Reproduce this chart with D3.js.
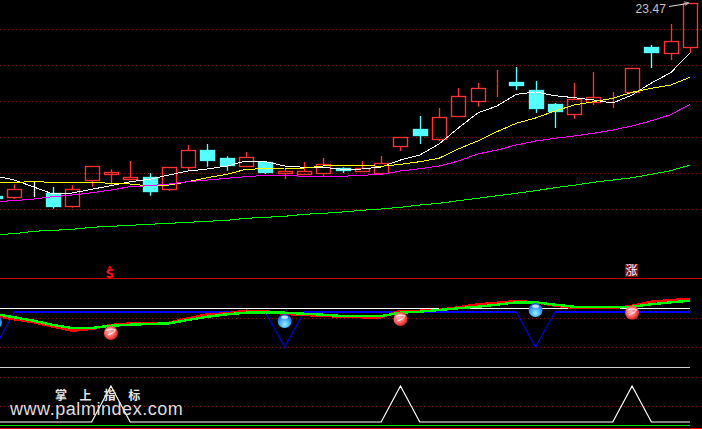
<!DOCTYPE html>
<html><head><meta charset="utf-8">
<script src="https://cdnjs.cloudflare.com/ajax/libs/d3/7.8.5/d3.min.js"></script>
<style>html,body{margin:0;padding:0;background:#000;overflow:hidden}svg{display:block}</style>
</head><body><div id="c"></div>
<script>
// Sessions run from index -1 (cut off at the left edge) to 35
const sessions = d3.range(-1, 36);
const open  = [4.25,4.03,4.67,4.47,3.13,5.73,6.43,5.83,6.10,4.83,7.03,8.80,8.00,7.13,7.63,6.50,6.33,6.43,6.97,6.63,6.50,9.13,10.87,9.87,12.13,13.67,15.46,15.60,14.80,13.40,12.33,13.57,13.92,14.57,19.10,18.47,19.03];
const close = [4.10,4.87,4.67,3.20,4.87,7.17,6.60,6.07,4.73,7.07,8.77,7.83,7.30,8.07,6.60,6.67,6.67,7.37,6.77,6.97,7.47,10.07,10.30,12.07,14.17,14.97,15.47,15.30,13.00,12.70,13.87,14.07,13.93,16.97,18.60,19.67,23.47];
const high  = [4.25,5.37,5.63,5.10,5.27,7.17,6.87,7.70,6.50,7.07,9.30,9.40,8.17,8.60,7.70,6.97,7.60,8.00,7.07,7.70,8.20,10.07,12.20,13.00,15.00,15.50,16.80,17.10,15.70,13.50,15.50,16.60,14.60,16.97,19.30,21.40,23.47];
const low   = [4.10,3.90,4.10,2.93,3.03,5.13,5.30,5.83,4.23,4.70,6.70,7.13,6.73,7.13,6.40,5.90,6.33,6.20,6.50,6.63,6.43,8.70,9.40,9.70,12.13,13.13,14.10,14.80,12.50,11.00,11.90,13.30,13.00,14.57,17.00,17.80,18.50];
const maWhite   = [6.2,5.8,5.1,4.4,4.5,4.87,5.23,5.63,5.87,6.3,6.7,6.9,7.2,7.7,7.63,7.2,7.07,7.07,6.87,6.9,7.1,7.8,8.3,9.4,11.0,12.5,13.2,14.37,14.6,14.23,14.03,13.8,13.5,14.3,15.5,16.53,18.5];
const maYellow  = [5.57,5.57,5.63,5.57,5.57,5.57,5.47,5.4,5.2,5.3,5.63,6.03,6.37,6.87,6.93,7.0,7.0,7.2,7.27,7.27,7.17,7.37,7.63,7.98,8.9,9.7,10.63,11.47,12.0,12.7,13.3,13.63,13.97,14.57,14.97,15.3,16.07];
const maMagenta = [3.65,3.73,3.9,4.13,4.3,4.53,4.8,5.13,5.23,5.4,5.63,5.8,5.97,6.13,6.27,6.27,6.17,6.17,6.17,6.27,6.37,6.7,6.93,7.2,7.7,8.4,8.8,9.3,9.7,9.97,10.2,10.47,10.8,11.2,11.73,12.33,13.37];
const maGreen   = [0.34,0.43,0.67,0.77,0.87,1.07,1.17,1.27,1.37,1.47,1.57,1.67,1.77,1.97,2.07,2.17,2.37,2.47,2.6,2.77,2.9,3.07,3.3,3.47,3.73,3.97,4.23,4.47,4.73,5.03,5.27,5.57,5.8,6.03,6.37,6.73,7.3];
const priceGrid = [20.9,17.3,13.7,10.1,6.5,2.9];
const lastPrice = "23.47";

// Oscillator panel
const oscGreen = [33,29.7,26.3,22,19,19,21.3,22.3,23,23.7,27,30.3,32.7,34.3,34.7,34.3,33.3,32.3,31,31,31,34.3,35.3,37,38.7,40.3,42.3,44.7,44.7,42.3,40.3,40,40,40.3,42.7,44.7,46.3];
const oscRed   = [31,27.7,24.7,20.3,16.3,18,22,23.7,23.7,24.3,28.7,32.7,33.7,36.3,36,33,32,31,30.3,29.7,29.7,36.3,36.3,37.3,39.7,42.7,44.3,46,44.7,41.3,39,38.7,38.7,41.3,45.3,47,48];
const oscBlue  = [0,35,35,35,35,35,35,35,35,35,35,35,35,35,35,0,35,35,35,35,35,35,35,35,35,35,35,35,0,35,35,35,35,35,35,35,35];
const oscGrid = [28.7,0];
const buyIdx  = [5,20,32];
const buyVal  = [14,28,34.3];
const sellIdx = [-1,14,27];
const sellVal = [25,26,37];

// Signal panel
const signal = [0,0,0,0,0,0,1,0,0,0,0,0,0,0,0,0,0,0,0,0,0,1,0,0,0,0,0,0,0,0,0,0,0,1,0,0,0];
const signalGrid = [1.25,0.444];

const W = 702, H = 429, RIGHT = 690;
const svg = d3.select("#c").append("svg").attr("width",W).attr("height",H).style("background","#000");
const x  = d3.scaleLinear().domain([0,35]).range([14.4,RIGHT]);
const y  = d3.scaleLinear().domain([23.8,0]).range([0,238]);
const yO = d3.scaleLinear().domain([69,0]).range([278,347]);
const yS = d3.scaleLinear().domain([0,1]).range([422,386]);
const snap = v => Math.round(v)+0.5;
const RED="#ff3333", CYAN="#55ffff", DOT="#861010";

function hline(yy,x2,color,w,dash){
  const l = svg.append("line").attr("x1",0).attr("x2",x2).attr("y1",yy).attr("y2",yy)
    .attr("stroke",color).attr("stroke-width",w).attr("shape-rendering","crispEdges");
  if(dash) l.attr("stroke-dasharray",dash);
}
priceGrid.forEach(v=>hline(snap(y(v)),W,DOT,1,"1 3"));
oscGrid.forEach(v=>hline(snap(yO(v)),W,DOT,1,"1 3"));
signalGrid.forEach(v=>hline(snap(yS(v)),W,DOT,1,"1 3"));

// Candles
const rows = sessions.map((s,i)=>({s,o:open[i],c:close[i],h:high[i],l:low[i]}));
const col = d=> d.c>d.o?RED:(d.c<d.o?CYAN:"#fff");
const SW = 1.35;
const g = svg.append("g");
const cs = g.selectAll("g").data(rows).join("g");
cs.append("line").attr("x1",d=>snap(x(d.s))).attr("x2",d=>snap(x(d.s)))
  .attr("y1",d=>y(d.h)).attr("y2",d=>y(Math.max(d.o,d.c))).attr("stroke",col).attr("stroke-width",SW);
cs.append("line").attr("x1",d=>snap(x(d.s))).attr("x2",d=>snap(x(d.s)))
  .attr("y1",d=>y(Math.min(d.o,d.c))).attr("y2",d=>y(d.l)).attr("stroke",col).attr("stroke-width",SW);
cs.append("rect").attr("x",d=>snap(x(d.s))-7)
  .attr("y",d=>snap(y(Math.max(d.o,d.c))))
  .attr("width",14)
  .attr("height",d=>Math.round(Math.abs(y(d.o)-y(d.c))))
  .attr("fill",d=>d.c<d.o?CYAN:"none").attr("stroke",col).attr("stroke-width",SW);

// Moving averages
const line = d3.line().x((d,i)=>x(sessions[i]));
function drawMA(values,color){
  svg.append("path").attr("d",line.y(d=>y(d))(values)).attr("fill","none")
    .attr("stroke",color).attr("stroke-width",1).attr("shape-rendering","crispEdges");
}
drawMA(maWhite,"#fff"); drawMA(maYellow,"#ffff00"); drawMA(maMagenta,"#ff00ff"); drawMA(maGreen,"#00ff00");

// Last price label
const lx = x(35), ly = y(23.47);
svg.append("text").text(lastPrice).attr("x",lx-24).attr("y",ly+9.7).attr("text-anchor","end")
  .attr("font-family","Liberation Sans, Arial").attr("font-size",12).attr("letter-spacing",0.1).attr("fill","#c4c4c4");
svg.append("line").attr("x1",lx-21).attr("y1",ly+3.2).attr("x2",lx-2).attr("y2",ly+0.2).attr("stroke","#ddd").attr("stroke-width",1);
svg.append("path").attr("d",`M${lx-6},${ly-1.5}L${lx-1},${ly-0.5}L${lx-5},${ly+2}`).attr("fill","none").attr("stroke","#aaa");

// Separators
hline(278.5,W,"#c80000",1);
hline(308.5,RIGHT,"#fff",1.5);
hline(367.5,RIGHT,"#cfcfcf",1.5);

// Oscillator
const lineO = d3.line().x((d,i)=>x(sessions[i])).y(d=>yO(d));
svg.append("path").attr("d",lineO(oscBlue)).attr("fill","none").attr("stroke","#0000e8").attr("stroke-width",1.2);
// flat stretches of the blue line are heavier than its spikes
oscBlue.forEach((v,i)=>{
  if(i>0 && v===oscBlue[i-1]){
    svg.append("line").attr("x1",x(sessions[i-1])).attr("x2",x(sessions[i])).attr("y1",yO(v)).attr("y2",yO(v))
      .attr("stroke","#0000ff").attr("stroke-width",2).attr("shape-rendering","crispEdges");
  }
});
function drawOsc(v,c){ svg.append("path").attr("d",lineO(v)).attr("fill","none").attr("stroke",c).attr("stroke-width",2.4).attr("shape-rendering","crispEdges"); }
drawOsc(oscRed,"#ff0000"); drawOsc(oscGreen,"#00ff00");

// Signal panel
const lineS = d3.line().x((d,i)=>x(sessions[i])).y(d=>yS(d));
svg.append("path").attr("d",lineS(signal)).attr("fill","none").attr("stroke","#fff").attr("stroke-width",1.2);
hline(425.5,RIGHT,"#00e000",1.2);
hline(428.5,W,"#e80000",1.2);

// Ball gradients
const defs = svg.append("defs");
const rg = defs.append("radialGradient").attr("id","ballR").attr("cx","42%").attr("cy","42%").attr("r","62%");
[[0,"#ffc0c0"],[0.5,"#ff7070"],[0.85,"#e83030"],[1,"#b02020"]].forEach(s=>rg.append("stop").attr("offset",s[0]).attr("stop-color",s[1]));
const bg = defs.append("radialGradient").attr("id","ballB").attr("cx","50%").attr("cy","72%").attr("r","68%");
[[0,"#90f4ff"],[0.5,"#48b0ff"],[0.85,"#2070e0"],[1,"#1850a8"]].forEach(s=>bg.append("stop").attr("offset",s[0]).attr("stop-color",s[1]));

const buys = buyIdx.map((s,i)=>({s,v:buyVal[i]}));
const sells = sellIdx.map((s,i)=>({s,v:sellVal[i]}));
const rb = svg.append("g").selectAll("g").data(buys).join("g").attr("transform",d=>`translate(${x(d.s)},${yO(d.v)})`);
rb.append("circle").attr("r",7).attr("fill","url(#ballR)");
rb.append("path").attr("d","M-4.5,-2.5C-1,-4.5 2,-4 4.5,-3C3,-0.5 0,1 -3,2").attr("fill","none").attr("stroke","#fff").attr("stroke-width",1.1).attr("opacity",.8);
const bb = svg.append("g").selectAll("g").data(sells).join("g").attr("transform",d=>`translate(${x(d.s)},${yO(d.v)})`);
bb.append("circle").attr("r",7).attr("fill","url(#ballB)");
bb.append("ellipse").attr("cy",-3.8).attr("rx",3.4).attr("ry",1.6).attr("fill","#e8f8ff").attr("opacity",.8);

// Markers above the oscillator
svg.append("path").attr("d",`M${x(5)-3.5},268.7L${x(5)-1},265.5L${x(5)+1.5},268.7Z`).attr("fill","#ff0000");
svg.append("text").text("S").attr("x",x(5)-1).attr("y",277.8).attr("text-anchor","middle")
  .attr("font-family","DejaVu Sans").attr("font-weight","bold").attr("font-size",12).attr("fill","#ff1010");
svg.append("rect").attr("x",x(32)-7).attr("y",264).attr("width",13).attr("height",13).attr("fill","#8a0c0c");
svg.append("text").text("涨").attr("x",x(32)-0.5).attr("y",275).attr("text-anchor","middle")
  .attr("font-family","Noto Sans CJK SC").attr("font-size",12).attr("fill","#fff");

// Watermark
svg.append("text").text("掌 上 指 标").attr("x",55).attr("y",400)
  .attr("font-family","Noto Sans CJK SC").attr("font-weight","bold").attr("font-size",12).attr("letter-spacing",4.85).attr("fill","#e4e4e4");
svg.append("text").text("www.palmindex.com").attr("x",10).attr("y",415)
  .attr("font-family","Liberation Sans").attr("font-size",18).attr("letter-spacing",0.55).attr("fill","#dedede");
</script></body></html>
